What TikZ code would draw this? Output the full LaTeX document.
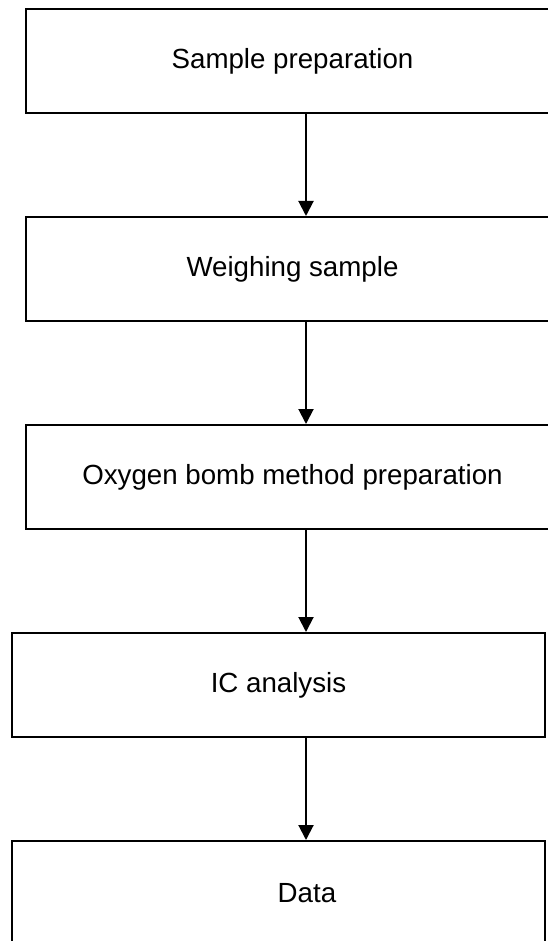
\documentclass[tikz,border=0pt]{standalone}
\usepackage{fontspec}
\setmainfont{Liberation Sans}
\usepackage{tikz}
\usetikzlibrary{positioning, calc, arrows.meta}
\tikzset{
	stepbox/.style={draw=black, line width=2pt, minimum width=533pt, minimum height=104pt, inner sep=0pt, font=\fontsize{27.7}{33}\selectfont},
	flowarrow/.style={line width=2pt, -{Triangle[length=15pt,width=15pt]}}
}

\begin{document}
\begin{tikzpicture}[x=1pt, y=-1pt]
	\useasboundingbox (0,0) rectangle (547,941);
	
	\pgfmathsetmacro{\boxgap}{208}
	\coordinate (axis) at (306,0);
	
	\node[stepbox] (prep) at (292.5,61) {Sample preparation};
	\node[stepbox] (weigh) at (292.5,61+\boxgap) {Weighing sample};
	\node[stepbox] (bomb) at (292.5,61+2*\boxgap) {Oxygen bomb method preparation};
	\node[stepbox] (ic) at (278.5,61+3*\boxgap) {IC analysis};
	\node[stepbox] (data) at (278.5,61+4*\boxgap) {\hspace*{57pt}Data};
	
	\draw[flowarrow] (prep.south -| axis) -- (weigh.north -| axis);
	\draw[flowarrow] (weigh.south -| axis) -- (bomb.north -| axis);
	\draw[flowarrow] (bomb.south -| axis) -- (ic.north -| axis);
	\draw[flowarrow] (ic.south -| axis) -- (data.north -| axis);
\end{tikzpicture}
\end{document}
